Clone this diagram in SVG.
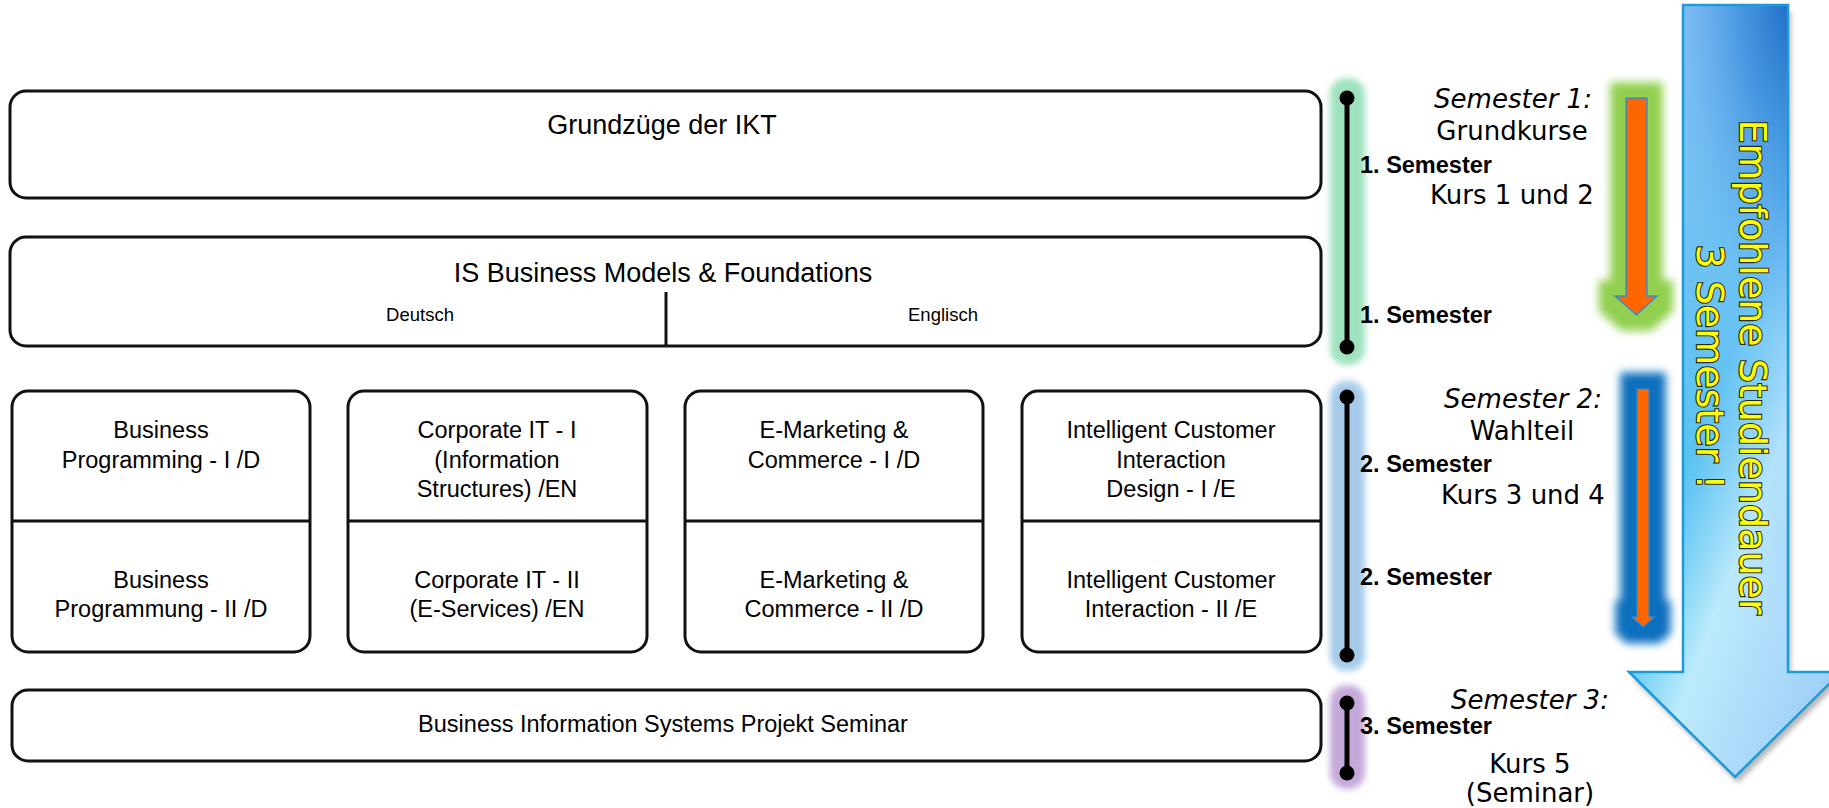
<svg xmlns="http://www.w3.org/2000/svg" width="1829" height="808" viewBox="0 0 1829 808">
  <style>
    .box { fill: #ffffff; stroke: #111111; stroke-width: 3; }
    .div { stroke: #111111; stroke-width: 3; fill: none; }
    .t { font-family: "Liberation Sans", Arial, sans-serif; fill: #000; text-anchor: middle; }
    .cell { font-size: 23.5px; }
    .big { font-size: 27px; }
    .small { font-size: 18.5px; }
    .sem { font-family: "Liberation Sans", Arial, sans-serif; font-weight: bold; font-size: 23.5px; fill: #000; }
    .v { font-family: "DejaVu Sans", Verdana, sans-serif; font-size: 26px; fill: #000; text-anchor: middle; }
    .vi { font-style: italic; }
    .vert { font-family: "DejaVu Sans", Verdana, sans-serif; font-size: 38px; fill: #FFFF00; stroke: #2a2a10; stroke-width: 2.2; paint-order: stroke fill; text-anchor: middle; }
    .tl { stroke: #000; stroke-width: 5; }
  </style>
  <defs>
    <filter id="soft" x="-50%" y="-20%" width="200%" height="140%">
      <feGaussianBlur stdDeviation="3"/>
    </filter>
    <filter id="glowGreen" x="-100%" y="-20%" width="300%" height="140%">
      <feMorphology in="SourceAlpha" operator="dilate" radius="15" result="d"/>
      <feGaussianBlur in="d" stdDeviation="4" result="b"/>
      <feFlood flood-color="#92D050"/>
      <feComposite in2="b" operator="in" result="g"/>
      <feMerge><feMergeNode in="g"/><feMergeNode in="SourceGraphic"/></feMerge>
    </filter>
    <filter id="glowBlue" x="-150%" y="-20%" width="400%" height="140%">
      <feMorphology in="SourceAlpha" operator="dilate" radius="16" result="d"/>
      <feGaussianBlur in="d" stdDeviation="4" result="b"/>
      <feFlood flood-color="#0B6FBE"/>
      <feComposite in2="b" operator="in" result="g"/>
      <feMerge><feMergeNode in="g"/><feMergeNode in="SourceGraphic"/></feMerge>
    </filter>
    <filter id="shadow" x="-20%" y="-10%" width="140%" height="130%">
      <feGaussianBlur in="SourceAlpha" stdDeviation="2.5"/>
      <feOffset dx="3" dy="6" result="o"/>
      <feFlood flood-color="#000" flood-opacity="0.28"/>
      <feComposite in2="o" operator="in" result="s"/>
      <feMerge><feMergeNode in="s"/><feMergeNode in="SourceGraphic"/></feMerge>
    </filter>
    <linearGradient id="baseGrad" gradientUnits="userSpaceOnUse" x1="1629" y1="620" x2="1841" y2="700">
      <stop offset="0" stop-color="#4CC2F0"/>
      <stop offset="0.35" stop-color="#BDEBFC"/>
      <stop offset="0.6" stop-color="#B0DDFA"/>
      <stop offset="1" stop-color="#9ACDF7"/>
    </linearGradient>
    <linearGradient id="topGrad" gradientUnits="userSpaceOnUse" x1="0" y1="0" x2="0" y2="620">
      <stop offset="0" stop-color="#8EC2F7" stop-opacity="0.9"/>
      <stop offset="1" stop-color="#8EC2F7" stop-opacity="0"/>
    </linearGradient>
    <radialGradient id="darkGrad" gradientUnits="userSpaceOnUse" cx="1800" cy="-10" r="135" gradientTransform="translate(1800,-10) scale(1,2.6) translate(-1800,10)">
      <stop offset="0" stop-color="#1462BE" stop-opacity="1"/>
      <stop offset="0.45" stop-color="#2F86D8" stop-opacity="0.7"/>
      <stop offset="1" stop-color="#5AA6EA" stop-opacity="0"/>
    </radialGradient>
  </defs>

  <!-- Top boxes -->
  <g id="grundzuege">
    <rect class="box" x="10" y="91" width="1311" height="107" rx="16"/>
    <text class="t big" x="662" y="134">Grundzüge der IKT</text>
  </g>
  <g id="is-business">
    <rect class="box" x="10" y="237" width="1311" height="109" rx="16"/>
    <line class="div" x1="666" y1="292" x2="666" y2="346"/>
    <text class="t big" x="663" y="282">IS Business Models &amp; Foundations</text>
    <text class="t small" x="420" y="321">Deutsch</text>
    <text class="t small" x="943" y="321">Englisch</text>
  </g>

  <!-- Grid boxes -->
  <g id="business-programming">
    <rect class="box" x="12" y="391" width="298" height="261" rx="16"/>
    <line class="div" x1="12" y1="521" x2="310" y2="521"/>
    <text class="t cell" x="161" y="438">Business</text>
    <text class="t cell" x="161" y="468">Programming - I /D</text>
    <text class="t cell" x="161" y="588">Business</text>
    <text class="t cell" x="161" y="617">Programmung - II /D</text>
  </g>
  <g id="corporate-it">
    <rect class="box" x="348" y="391" width="299" height="261" rx="16"/>
    <line class="div" x1="348" y1="521" x2="647" y2="521"/>
    <text class="t cell" x="497" y="438">Corporate IT - I</text>
    <text class="t cell" x="497" y="468">(Information</text>
    <text class="t cell" x="497" y="497">Structures) /EN</text>
    <text class="t cell" x="497" y="588">Corporate IT - II</text>
    <text class="t cell" x="497" y="617">(E-Services) /EN</text>
  </g>
  <g id="e-marketing">
    <rect class="box" x="685" y="391" width="298" height="261" rx="16"/>
    <line class="div" x1="685" y1="521" x2="983" y2="521"/>
    <text class="t cell" x="834" y="438">E-Marketing &amp;</text>
    <text class="t cell" x="834" y="468">Commerce - I /D</text>
    <text class="t cell" x="834" y="588">E-Marketing &amp;</text>
    <text class="t cell" x="834" y="617">Commerce - II /D</text>
  </g>
  <g id="intelligent-customer">
    <rect class="box" x="1022" y="391" width="299" height="261" rx="16"/>
    <line class="div" x1="1022" y1="521" x2="1321" y2="521"/>
    <text class="t cell" x="1171" y="438">Intelligent Customer</text>
    <text class="t cell" x="1171" y="468">Interaction</text>
    <text class="t cell" x="1171" y="497">Design - I /E</text>
    <text class="t cell" x="1171" y="588">Intelligent Customer</text>
    <text class="t cell" x="1171" y="617">Interaction - II /E</text>
  </g>

  <g id="projekt-seminar">
    <rect class="box" x="12" y="690" width="1309" height="71" rx="16"/>
    <text class="t cell" x="663" y="732">Business Information Systems Projekt Seminar</text>
  </g>

  <!-- Big arrow -->
  <g id="big-arrow">
    <path d="M1683,5 H1788 V672 H1841 L1735,777 L1629,672 H1683 Z" fill="url(#baseGrad)" filter="url(#shadow)"/>
    <path d="M1683,5 H1788 V672 H1683 Z" fill="url(#topGrad)"/>
    <path d="M1683,5 H1788 V672 H1683 Z" fill="url(#darkGrad)"/>
    <path d="M1683,5 H1788 V672 H1841 L1735,777 L1629,672 H1683 Z" fill="none" stroke="#1D9BD7" stroke-width="2.5"/>
    <text class="vert" transform="translate(1740,367) rotate(90)">Empfohlene Studiendauer</text>
    <text class="vert" transform="translate(1697,367) rotate(90)">3 Semester !</text>
  </g>

  <!-- Semester timelines (connectors) -->
  <g id="connectors">
    <rect x="1330" y="78" width="35" height="287" rx="16" fill="#9FE2C0" filter="url(#soft)"/>
    <rect x="1330" y="381" width="35" height="290" rx="16" fill="#A6CBEA" filter="url(#soft)"/>
    <rect x="1330" y="685" width="35" height="104" rx="16" fill="#C4A9DA" filter="url(#soft)"/>
    <line class="tl" x1="1347" y1="98" x2="1347" y2="347"/>
    <circle cx="1347" cy="98" r="7.5"/>
    <circle cx="1347" cy="347" r="7.5"/>
    <line class="tl" x1="1347" y1="397" x2="1347" y2="655"/>
    <circle cx="1347" cy="397" r="7.5"/>
    <circle cx="1347" cy="655" r="7.5"/>
    <line class="tl" x1="1347" y1="703" x2="1347" y2="773"/>
    <circle cx="1347" cy="703" r="7.5"/>
    <circle cx="1347" cy="773" r="7.5"/>
    <path d="M1626,98 H1647 V296 H1657 L1636.5,315 L1615,296 H1626 Z" fill="#FF6600" stroke="#2E8BD0" stroke-width="1.5" filter="url(#glowGreen)"/>
    <path d="M1637,389 H1649 V617 H1654 L1643,627 L1632,617 H1637 Z" fill="#FF6600" stroke="#2E8BD0" stroke-width="1.2" filter="url(#glowBlue)"/>
  </g>

  <!-- Semester labels -->
  <g id="semester-labels">
    <text class="sem" x="1360" y="173">1. Semester</text>
    <text class="sem" x="1360" y="323">1. Semester</text>
    <text class="sem" x="1360" y="472">2. Semester</text>
    <text class="sem" x="1360" y="585">2. Semester</text>
    <text class="sem" x="1360" y="734">3. Semester</text>
    <text class="v vi" x="1513" y="108">Semester 1:</text>
    <text class="v" x="1512" y="140">Grundkurse</text>
    <text class="v" x="1512" y="204">Kurs 1 und 2</text>
    <text class="v vi" x="1523" y="408">Semester 2:</text>
    <text class="v" x="1522" y="440">Wahlteil</text>
    <text class="v" x="1523" y="504">Kurs 3 und 4</text>
    <text class="v vi" x="1530" y="709">Semester 3:</text>
    <text class="v" x="1530" y="773">Kurs 5</text>
    <text class="v" x="1530" y="802">(Seminar)</text>
  </g>
</svg>
